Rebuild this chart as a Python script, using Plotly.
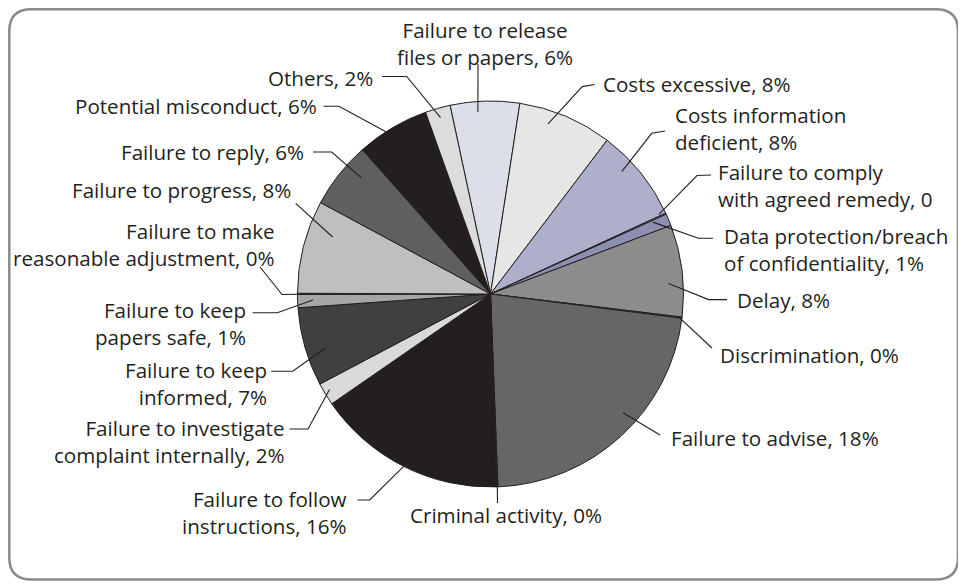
import numpy as np
import plotly.graph_objects as go

# ---------------- data ----------------
categories = ["Failure to release files or papers", "Costs excessive", "Costs information deficient",
              "Failure to comply with agreed remedy", "Data protection/breach of confidentiality", "Delay",
              "Discrimination", "Failure to advise", "Criminal activity", "Failure to follow instructions",
              "Failure to investigate complaint internally", "Failure to keep informed",
              "Failure to keep papers safe", "Failure to make reasonable adjustment", "Failure to progress",
              "Failure to reply", "Potential misconduct", "Others"]
values = [5.8, 7.9, 7.8, 0.1, 1.0, 7.7, 0.1, 22.4, 0.1, 15.9, 1.9, 6.6, 1.1, 0.1, 7.8, 5.6, 6.1, 2.1]
label_texts = ["Failure to release<br>files or papers, 6%", "Costs excessive, 8%", "Costs information<br>deficient, 8%",
               "Failure to comply<br>with agreed remedy, 0", "Data protection/breach<br>of confidentiality, 1%",
               "Delay, 8%", "Discrimination, 0%", "Failure to advise, 18%", "Criminal activity, 0%",
               "Failure to follow<br>instructions, 16%", "Failure to investigate<br>complaint internally, 2%",
               "Failure to keep<br>informed, 7%", "Failure to keep<br>papers safe, 1%",
               "Failure to make<br>reasonable adjustment, 0%", "Failure to progress, 8%", "Failure to reply, 6%",
               "Potential misconduct, 6%", "Others, 2%"]
colors = ["#dcdfe9", "#e6e6e6", "#adafcb", "#9c9ebf", "#8c8fb0", "#8c8c8c", "#7a7a7a", "#666666", "#444444",
          "#231f20", "#d9d9d9", "#404040", "#a6a6a6", "#cfcfcf", "#bfbfbf", "#5f5f5f", "#231f20", "#dcdcdc"]

# ---------------- layout constants (page pixels) ----------------
PAGE_W, PAGE_H = 966, 585
OFF = 8                       # default body margin of the html page
W, H = PAGE_W - OFF, PAGE_H - OFF
CX, CY, R = 490.5, 294.0, 193.0
ROTATION = -12.1
FONT = "Open Sans"
FS = 20.6
TXT = "#231f20"
LS = 24.3  # line spacing in reference

# label layout: (x, y of first line, anchor, slice-fraction for leader, radius fraction, leader points)
label_layout = [
    (485.0, 31.7, "center", 0.39, 0.945, [(478.0, 64.0)]),
    (600.7, 84.0, "left", 0.35, 0.93, [(582.3, 86.6), (594.6, 84.5)]),
    (672.8, 116.8, "left", 0.35, 0.93, [(651.7, 133.3), (665.0, 131.0)]),
    (716.0, 173.5, "left", -1.5, 0.965, [(697.0, 175.5), (711.0, 175.0)]),
    (722.0, 237.7, "left", 0.15, 0.92, [(698.3, 238.3), (713.0, 238.3)]),
    (735.0, 300.4, "left", 0.63, 0.924, [(708.6, 299.6), (727.0, 299.6)]),
    (717.8, 354.5, "left", 0.0, 0.98, [(712.0, 348.0)]),
    (668.5, 438.4, "left", 0.43, 0.922, [(660.0, 435.0)]),
    (506.0, 515.0, "center", 0.5, 1.0, [(497.5, 503.0)]),
    (349.4, 500.0, "right", 0.5, 1.0, [(369.7, 500.0), (357.4, 500.0)]),
    (286.5, 429.0, "right", 0.58, 0.97, [(308.0, 429.0), (289.6, 429.0)]),
    (269.3, 371.3, "right", 0.41, 0.90, [(292.7, 371.3), (271.1, 371.3)]),
    (248.3, 311.6, "right", 0.55, 0.92, [(277.3, 312.7), (252.6, 312.7)]),
    (277.3, 232.0, "right", 0.5, 0.85, [(282.0, 294.5), (260.0, 267.0)]),
    (292.7, 189.6, "right", 0.70, 0.87, [(295.7, 203.4)]),
    (306.2, 152.2, "right", 0.68, 0.90, [(331.7, 152.0), (313.0, 152.0)]),
    (319.0, 105.6, "right", 0.40, 1.0, [(338.9, 106.3), (323.5, 106.3)]),
    (374.6, 77.6, "right", 0.51, 0.95, [(406.7, 76.5), (382.0, 76.5)]),
]

fig = go.Figure()
fig.add_trace(go.Pie(
    labels=categories, values=values, sort=False, direction="clockwise", rotation=ROTATION,
    marker=dict(colors=colors, line=dict(color="#231f20", width=1)),
    textinfo="none", hoverinfo="label+value", showlegend=False,
    domain=dict(x=[(CX - R - OFF) / W, (CX + R - OFF) / W],
                y=[1 - (CY + R - OFF) / H, 1 - (CY - R - OFF) / H]),
))

# slice angles from data (clockwise from 12 o'clock)
vals = np.array(values, dtype=float)
spans = vals / vals.sum() * 360.0
starts = ROTATION + np.concatenate([[0.0], np.cumsum(spans)[:-1]])

shapes = []
annotations = []
for i, (lx, ly, anc, frac, rf, pts) in enumerate(label_layout):
    ang = np.deg2rad(starts[i] + frac * spans[i])
    ax = CX + rf * R * np.sin(ang)
    ay = CY - rf * R * np.cos(ang)
    path = f"M{ax:.2f},{ay:.2f}" + "".join(f" L{px:.2f},{py:.2f}" for px, py in pts)
    shapes.append(dict(type="path", path=path, xref="x", yref="y",
                       line=dict(color="#231f20", width=1.1), layer="above"))
    nlines = label_texts[i].count("<br>") + 1
    annotations.append(dict(x=lx, y=ly + (nlines - 1) * LS / 2, xref="x", yref="y",
                            text=label_texts[i], showarrow=False,
                            xanchor=anc, yanchor="middle", align=anc,
                            font=dict(family=FONT, size=FS, color=TXT)))

# rounded border
x0, y0, x1, y1, rr = 9.3, 9.3, 958.0, 579.5, 22.0
border = (f"M{x0 + rr},{y0} L{x1 - rr},{y0} Q{x1},{y0} {x1},{y0 + rr} L{x1},{y1 - rr} "
          f"Q{x1},{y1} {x1 - rr},{y1} L{x0 + rr},{y1} Q{x0},{y1} {x0},{y1 - rr} "
          f"L{x0},{y0 + rr} Q{x0},{y0} {x0 + rr},{y0} Z")
shapes.append(dict(type="path", path=border, xref="x", yref="y",
                   line=dict(color="#8a8a8a", width=2.5), layer="below"))

fig.update_layout(
    width=W, height=H, margin=dict(l=0, r=0, t=0, b=0),
    paper_bgcolor="white", plot_bgcolor="rgba(0,0,0,0)",
    xaxis=dict(range=[OFF, PAGE_W], visible=False, fixedrange=True, domain=[0, 1]),
    yaxis=dict(range=[PAGE_H, OFF], visible=False, fixedrange=True, domain=[0, 1]),
    shapes=shapes, annotations=annotations, showlegend=False,
)

fig.write_html("out.html")
